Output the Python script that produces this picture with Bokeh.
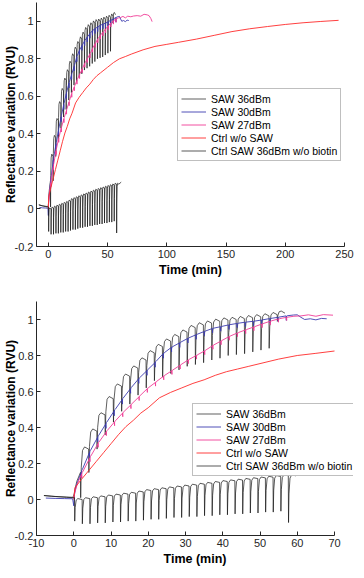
from bokeh.plotting import figure
from bokeh.layouts import column
from bokeh.models import Range1d, FixedTicker, CustomJSTickFormatter, Legend, LegendItem
from bokeh.embed import file_html
from bokeh.resources import INLINE

# ---------------- data ----------------
# SAW 36dBm : lead-in, dip times, level before each dip, dip minimum, tail
s36_lead_t = [-8.0, -5.0, -2.0, -0.2, 0.1, 0.8]
s36_lead_v = [0.022, 0.017, 0.014, 0.012, 0.03, 0.10]
s36_dip_t = [1.8, 4.0, 6.2, 8.4, 10.6, 12.8, 15.0, 17.2, 19.4, 21.6, 23.8, 26.0, 28.2,
             30.4, 32.6, 34.8, 37.0, 39.2, 41.4, 43.6, 45.8, 48.0, 50.2, 52.4, 54.6]
s36_top_v = [0.15, 0.28, 0.38, 0.47, 0.56, 0.63, 0.685, 0.73, 0.775, 0.815, 0.85, 0.88, 0.905,
             0.93, 0.955, 0.97, 0.98, 0.99, 0.997, 1.0, 1.005, 1.01, 1.015, 1.02, 1.027]
s36_low_v = [0.01, 0.15, 0.28, 0.36, 0.43, 0.49, 0.53, 0.58, 0.62, 0.66, 0.68, 0.70, 0.72,
             0.74, 0.75, 0.76, 0.775, 0.785, 0.80, 0.805, 0.81, 0.82, 0.83, 0.84, 0.99]
s36_tail_t = [56.7]
s36_tail_v = [1.035]

# SAW 30dBm
s30_lead_t = [-7.5, -5.0, -2.5, -0.3, 0.0, 0.2, 0.7]
s30_lead_v = [0.008, 0.006, 0.005, 0.004, -0.035, 0.03, 0.08]
s30_dip_t = [2.0, 4.2, 6.4, 8.6, 10.8, 13.0, 15.2, 17.4, 19.6, 21.8, 24.0, 26.2, 28.4,
             30.6, 32.8, 35.0, 37.2, 39.4, 41.6, 43.8, 46.0, 48.2, 50.4, 52.6, 54.8, 57.0]
s30_top_v = [0.15, 0.26, 0.345, 0.42, 0.49, 0.555, 0.615, 0.67, 0.715, 0.76, 0.81, 0.845, 0.87,
             0.895, 0.915, 0.933, 0.95, 0.96, 0.97, 0.978, 0.985, 0.99, 0.997, 1.005, 1.012, 1.02]
s30_low_v = [0.12, 0.23, 0.32, 0.395, 0.465, 0.53, 0.59, 0.645, 0.69, 0.735, 0.785, 0.82, 0.845,
             0.87, 0.89, 0.91, 0.925, 0.935, 0.945, 0.955, 0.96, 0.965, 0.975, 0.98, 0.99, 0.995]
s30_tail_t = [59.0, 60.0, 61.0, 62.0, 63.5, 65.0, 66.5, 67.9]
s30_tail_v = [1.025, 1.026, 1.012, 1.0, 1.004, 0.998, 1.006, 1.004]

# SAW 27dBm
s27_lead_t = [0.0, 0.3, 1.0]
s27_lead_v = [0.01, 0.04, 0.09]
s27_dip_t = [2.1, 4.3, 6.5, 8.7, 10.9, 13.1, 15.3, 17.5, 19.7, 21.9, 24.1, 26.3, 28.5,
             30.7, 32.9, 35.1, 37.3, 39.5, 41.7, 43.9, 46.1, 48.3, 50.5, 52.7, 54.9, 57.1]
s27_top_v = [0.14, 0.23, 0.31, 0.375, 0.43, 0.48, 0.525, 0.57, 0.615, 0.65, 0.685, 0.715, 0.745,
             0.775, 0.80, 0.825, 0.855, 0.88, 0.905, 0.925, 0.942, 0.958, 0.975, 0.99, 1.003, 1.012]
s27_low_v = [0.12, 0.21, 0.29, 0.355, 0.41, 0.46, 0.505, 0.55, 0.595, 0.63, 0.665, 0.695, 0.725,
             0.755, 0.78, 0.805, 0.835, 0.86, 0.885, 0.905, 0.922, 0.938, 0.955, 0.97, 0.985, 0.995]
s27_tail_t = [59.1, 61.0, 63.0, 65.0, 67.0, 69.6, 72.0, 75.0, 78.0, 80.8, 83.5, 85.0, 86.5, 87.6]
s27_tail_v = [1.018, 1.02, 1.026, 1.018, 1.027, 1.024, 1.028, 1.03, 1.027, 1.037, 1.034, 1.03, 1.015, 0.998]

# Ctrl w/o SAW
ctrl_t = [0, 0.3, 2, 4, 6, 8, 10, 12, 14, 16, 18, 20, 23, 26, 29, 32, 35, 38, 41, 44, 47, 50,
          55, 60, 65, 70, 80, 90, 100, 110, 125, 140, 155, 170, 185, 200, 215, 230, 245]
ctrl_v = [0.0, 0.065, 0.11, 0.16, 0.21, 0.26, 0.31, 0.36, 0.405, 0.44, 0.48, 0.51, 0.565, 0.595,
          0.62, 0.645, 0.665, 0.69, 0.71, 0.725, 0.74, 0.755, 0.78, 0.80, 0.812, 0.825, 0.848,
          0.866, 0.877, 0.888, 0.905, 0.925, 0.945, 0.96, 0.972, 0.983, 0.992, 0.999, 1.005]

# Ctrl SAW 36dBm w/o biotin
nb_lead_t = [-8.0, -6.0, -4.0, -2.0, -0.3]
nb_lead_v = [0.022, 0.018, 0.015, 0.012, 0.01]
nb_dip_t = [0.2, 2.25, 4.3, 6.35, 8.4, 10.45, 12.5, 14.55, 16.6, 18.65, 20.7, 22.75, 24.8, 26.85,
            28.9, 30.95, 33.0, 35.05, 37.1, 39.15, 41.2, 43.25, 45.3, 47.35, 49.4, 51.45, 53.5,
            55.55, 57.6]
nb_top_v = [0.01, 0.0, 0.005, 0.01, 0.015, 0.02, 0.025, 0.03, 0.035, 0.042, 0.05, 0.055, 0.06,
            0.065, 0.07, 0.075, 0.08, 0.085, 0.09, 0.095, 0.10, 0.104, 0.108, 0.112, 0.116, 0.12,
            0.124, 0.128, 0.132]
nb_low_v = [-0.12, -0.135, -0.135, -0.13, -0.13, -0.125, -0.125, -0.12, -0.12, -0.115, -0.11,
            -0.11, -0.105, -0.10, -0.10, -0.095, -0.095, -0.09, -0.09, -0.085, -0.085, -0.08,
            -0.08, -0.075, -0.075, -0.07, -0.07, -0.065, -0.128]
nb_tail_t = [59.5, 61.5]
nb_tail_v = [0.132, 0.143]

labels = ["SAW 36dBm", "SAW 30dBm", "SAW 27dBm", "Ctrl w/o SAW", "Ctrl SAW 36dBm w/o biotin"]
colors = ["#1a1a1a", "#3c3cb0", "#f03c96", "#ff2a2a", "#111111"]

y_ticks = [-0.2, 0, 0.2, 0.4, 0.6, 0.8, 1]
x_ticks_top = [0, 50, 100, 150, 200, 250]
x_ticks_bottom = [-10, 0, 10, 20, 30, 40, 50, 60, 70]


def teeth(lead_t, lead_v, dip_t, top_v, low_v, tail_t, tail_v, f, rec, over):
    """Trace a signal that drops at each dip time and recovers (arch shaped)."""
    xs, ys = list(lead_t), list(lead_v)
    n = len(dip_t)
    for k in range(n):
        nxt = top_v[k + 1] if k + 1 < n else tail_v[0]
        back = top_v[k] + f * (nxt - top_v[k]) + over
        gap = back - low_v[k]
        xs += [dip_t[k], dip_t[k] + 0.06, dip_t[k] + 0.2 * rec, dip_t[k] + 0.5 * rec, dip_t[k] + rec]
        ys += [top_v[k], low_v[k], low_v[k] + 0.6 * gap, low_v[k] + 0.93 * gap, back]
    xs += list(tail_t)
    ys += list(tail_v)
    return xs, ys


series = [
    teeth(s36_lead_t, s36_lead_v, s36_dip_t, s36_top_v, s36_low_v, s36_tail_t, s36_tail_v, 1.0, 1.1, 0.012),
    teeth(s30_lead_t, s30_lead_v, s30_dip_t, s30_top_v, s30_low_v, s30_tail_t, s30_tail_v, 0.15, 0.3, 0.0),
    teeth(s27_lead_t, s27_lead_v, s27_dip_t, s27_top_v, s27_low_v, s27_tail_t, s27_tail_v, 0.15, 0.3, 0.0),
    (ctrl_t, ctrl_v),
    teeth(nb_lead_t, nb_lead_v, nb_dip_t, nb_top_v, nb_low_v, nb_tail_t, nb_tail_v, 1.0, 0.9, 0.005),
]
widths = [0.7, 0.9, 0.9, 0.9, 0.7]

FONT = "Liberation Sans"
fmt = CustomJSTickFormatter(code="return String(Math.round(tick*10)/10);")


def make_fig(xr, xbounds, xticks, fw, fh, bl, br, bt, bb, legend_loc):
    p = figure(frame_width=fw, frame_height=fh, x_range=Range1d(*xr), y_range=Range1d(-0.2, 1.1),
               output_backend="svg", toolbar_location=None,
               min_border_left=bl, min_border_right=br, min_border_top=bt, min_border_bottom=bb)
    p.outline_line_color = None
    p.xgrid.visible = False
    p.ygrid.visible = False
    for ax in (p.xaxis[0], p.yaxis[0]):
        ax.axis_line_color = "#262626"
        ax.major_tick_line_color = "#262626"
        ax.major_tick_in = 4
        ax.major_tick_out = 0
        ax.minor_tick_line_color = None
        ax.major_label_text_font = FONT
        ax.major_label_text_font_size = "11px"
        ax.major_label_text_color = "#262626"
        ax.axis_label_text_font = FONT
        ax.axis_label_text_font_style = "bold"
        ax.axis_label_text_color = "#000000"
    p.xaxis.bounds = xbounds
    p.xaxis.ticker = FixedTicker(ticks=xticks)
    p.yaxis.ticker = FixedTicker(ticks=y_ticks)
    p.xaxis.formatter = fmt
    p.yaxis.formatter = fmt
    p.xaxis.major_label_standoff = 3
    p.yaxis.major_label_standoff = 3
    p.xaxis.axis_label = "Time (min)"
    p.xaxis.axis_label_text_font_size = "12.5px"
    p.xaxis.axis_label_standoff = 2
    p.yaxis.axis_label = "Reflectance variation (RVU)"
    p.yaxis.axis_label_text_font_size = "12px"
    p.yaxis.axis_label_standoff = -6

    items = []
    for (xs, ys), lab, col, w in zip(series, labels, colors, widths):
        keep = [i for i, t in enumerate(xs) if t <= xbounds[1]]
        r = p.line([xs[i] for i in keep], [ys[i] for i in keep], line_color=col, line_width=w)
        items.append(LegendItem(label=lab, renderers=[r]))
    leg = Legend(items=items, location=legend_loc)
    leg.label_text_font = FONT
    leg.label_text_font_size = "10.5px"
    leg.label_text_color = "#000000"
    leg.glyph_width = 25
    leg.glyph_height = 13
    leg.label_height = 13
    leg.label_standoff = 5
    leg.padding = 3
    leg.spacing = 0
    leg.margin = 0
    leg.border_line_color = "#808080"
    leg.border_line_width = 1
    leg.background_fill_color = "white"
    leg.background_fill_alpha = 1
    p.add_layout(leg)
    return p


p1 = make_fig((-10, 250), (-10, 250), x_ticks_top, 308, 244, 30, 10, 2, 30, (141, 85))
p2 = make_fig((-10, 75.1), (-10, 70), x_ticks_bottom, 317, 234, 30, 1, 22, 30, (156, 59))

layout = column(p1, p2, spacing=0)
open("out.html", "w").write(file_html(layout, INLINE))
